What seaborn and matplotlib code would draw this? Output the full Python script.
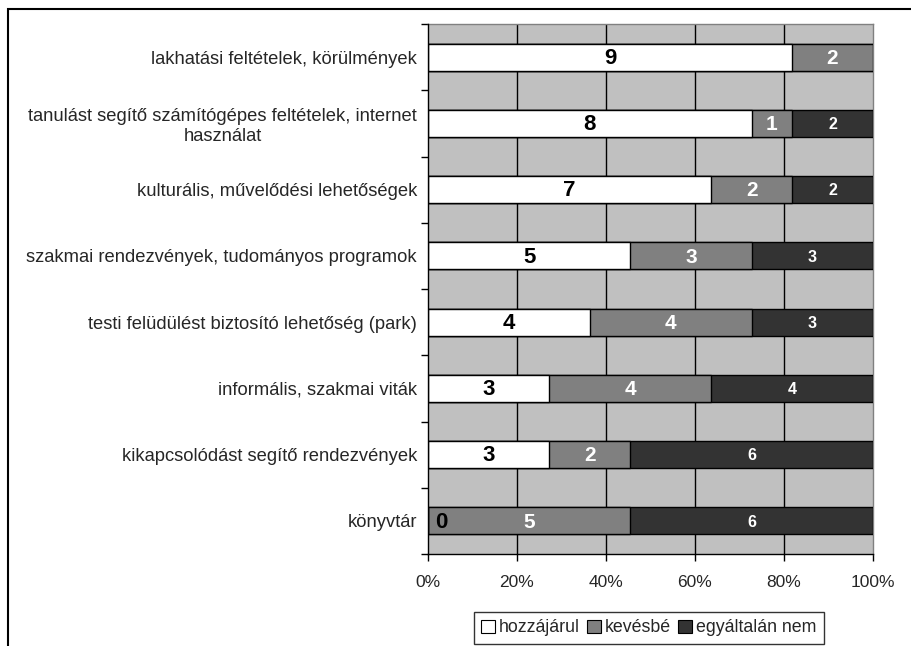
import numpy as np
import pandas as pd
import seaborn as sns
import matplotlib.pyplot as plt
from matplotlib.patches import Rectangle, Patch

categories = [
    'lakhatási feltételek, körülmények',
    'tanulást segítő számítógépes feltételek, internet\nhasználat',
    'kulturális, művelődési lehetőségek',
    'szakmai rendezvények, tudományos programok',
    'testi felüdülést biztosító lehetőség (park)',
    'informális, szakmai viták',
    'kikapcsolódást segítő rendezvények',
    'könyvtár',
]
hozzajarul = [9, 8, 7, 5, 4, 3, 3, 0]
kevesbe = [2, 1, 2, 3, 4, 4, 2, 5]
egyaltalan = [0, 2, 2, 3, 3, 4, 6, 6]
series_names = ['hozzájárul', 'kevésbé', 'egyáltalán nem']

colors = ['#FFFFFF', '#808080', '#333333']
label_colors = ['black', 'white', 'white']
label_sizes = [16, 15, 11.5]

sns.set_style('white')
plt.rcParams['font.family'] = ['Liberation Sans', 'DejaVu Sans']

vals = np.array([hozzajarul, kevesbe, egyaltalan], dtype=float)
totals = vals.sum(axis=0)
pct = vals / totals * 100
cum = np.cumsum(pct, axis=0)

fig = plt.figure(figsize=(9.11, 6.46), dpi=100)
ax = fig.add_axes([428 / 911, 1 - 554 / 646, (873 - 428) / 911, (554 - 24) / 646])
ax.set_facecolor('#C0C0C0')

# stacked bars: draw cumulative widths from the longest down
for i in [2, 1, 0]:
    df = pd.DataFrame({'cat': categories, 'w': cum[i]})
    sns.barplot(data=df, x='w', y='cat', order=categories, orient='h',
                color=colors[i], saturation=1, edgecolor='black', linewidth=1,
                width=0.41, errorbar=None, ax=ax, zorder=3)

# value labels
for i in range(3):
    for j in range(len(categories)):
        v = vals[i, j]
        if v == 0 and i != 0:
            continue
        start = cum[i, j] - pct[i, j]
        xc = start + pct[i, j] / 2
        if pct[i, j] == 0:
            xc = start + 3
        ax.text(xc, j + 0.02, f'{int(v)}', ha='center', va='center',
                color=label_colors[i], fontsize=label_sizes[i],
                fontweight='bold', zorder=5)

ax.set_xlim(0, 100)
ax.set_ylim(len(categories) - 0.5, -0.5)
ax.set_xticks([0, 20, 40, 60, 80, 100])
ax.set_xticklabels(['0%', '20%', '40%', '60%', '80%', '100%'], fontsize=12.5)
ax.set_yticks(range(len(categories)))
ax.set_yticklabels(categories, fontsize=13.2)
for lbl in ax.get_yticklabels():
    lbl.set_multialignment('center')
ax.set_yticks(np.arange(-0.5, len(categories), 1), minor=True)
ax.tick_params(axis='y', which='major', length=0, pad=8)
ax.tick_params(axis='y', which='minor', length=5, width=1, color='black', direction='out', left=True)
ax.tick_params(axis='x', length=5, width=1, color='black', direction='out', bottom=True, pad=10)
ax.set_xlabel('')
ax.set_ylabel('')

ax.set_axisbelow(True)
for x in [20, 40, 60, 80]:
    ax.axvline(x, color='black', linewidth=1, zorder=1)

ax.spines['left'].set_color('black')
ax.spines['bottom'].set_color('black')
ax.spines['top'].set_color('#808080')
ax.spines['right'].set_color('#808080')
for s in ax.spines.values():
    s.set_linewidth(1)
    s.set_visible(True)
ax.spines['left'].set_zorder(6)

handles = [Patch(facecolor=c, edgecolor='black', linewidth=0.8) for c in colors]
leg = fig.legend(handles, series_names, loc='center', bbox_to_anchor=(649 / 911, 1 - 628 / 646),
                 ncol=3, fontsize=12.8, frameon=True, fancybox=False, edgecolor='black',
                 handlelength=0.75, handleheight=0.75, handletextpad=0.25, columnspacing=0.4,
                 borderpad=0.4, borderaxespad=0)
leg.get_frame().set_linewidth(1)

fig.patches.append(Rectangle((8 / 911, -0.2), 1.5, 1 - 9 / 646 + 0.2, transform=fig.transFigure,
                             fill=False, edgecolor='black', linewidth=1.5))

fig.savefig('out.png', dpi=100, facecolor='white')
